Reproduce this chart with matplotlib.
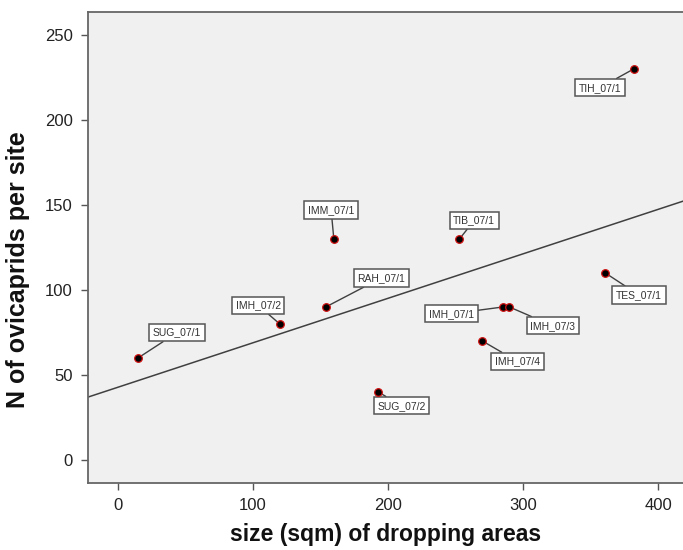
import numpy as np
from matplotlib import pyplot as plt

plt.rcParams['font.family'] = ['Liberation Sans', 'DejaVu Sans']

# sites: size of dropping area (sqm) vs number of ovicaprids
sites = ['SUG_07/1', 'IMH_07/2', 'RAH_07/1', 'IMM_07/1', 'TIB_07/1', 'TIH_07/1',
         'IMH_07/1', 'IMH_07/3', 'IMH_07/4', 'SUG_07/2', 'TES_07/1']
size_sqm = [15, 120, 154, 160, 253, 382, 285, 290, 270, 193, 361]
n_ovicaprids = [60, 80, 90, 130, 130, 230, 90, 90, 70, 40, 110]
# label box positions in data units
label_x = [44, 104, 195, 158, 264, 357, 247, 322, 296, 210, 386]
label_y = [75, 91, 107, 147, 141, 219, 86, 79, 58, 32, 97]

fig = plt.figure(figsize=(6.83, 5.5), dpi=100)
ax = fig.add_axes([88/683, 67/550, 1 - 88/683, 471/550])
ax.set_facecolor('#f0f0f0')

xlim = (-22, 418.5)
ax.set_xlim(*xlim)
ax.set_ylim(-13.5, 263.5)

# linear fit line
slope, icpt = np.polyfit(size_sqm, n_ovicaprids, 1)
xs = np.array(xlim)
ax.plot(xs, icpt + slope * xs, color='#404040', lw=1.1, zorder=2)

ax.scatter(size_sqm, n_ovicaprids, s=30, c='black', edgecolors='#d01010',
           linewidths=0.9, zorder=4)

for name, x, y, lx, ly in zip(sites, size_sqm, n_ovicaprids, label_x, label_y):
    ax.annotate(name, xy=(x, y), xytext=(lx, ly), ha='center', va='center',
                fontsize=7.5, color='#333333',
                bbox=dict(boxstyle='square,pad=0.35', fc='white', ec='#555555', lw=1.1),
                arrowprops=dict(arrowstyle='-', color='#404040', lw=1.0,
                                shrinkA=0, shrinkB=2),
                zorder=3)

ax.set_xticks([0, 100, 200, 300, 400])
ax.set_yticks([0, 50, 100, 150, 200, 250])
ax.tick_params(direction='out', length=5, width=1, color='#555555',
               labelsize=12, labelcolor='#222222', pad=6)
for side in ['left', 'bottom', 'top']:
    ax.spines[side].set_color('#666666')
    ax.spines[side].set_linewidth(1.3)
ax.spines['right'].set_visible(False)

ax.set_xlabel('size (sqm) of dropping areas', fontsize=16.5, fontweight='bold',
              color='#111111', labelpad=7)
ax.set_ylabel('N of ovicaprids per site', fontsize=18, fontweight='bold',
              color='#111111')
ax.yaxis.set_label_coords(-0.097, 0.452)

fig.savefig('out.png', dpi=100)
